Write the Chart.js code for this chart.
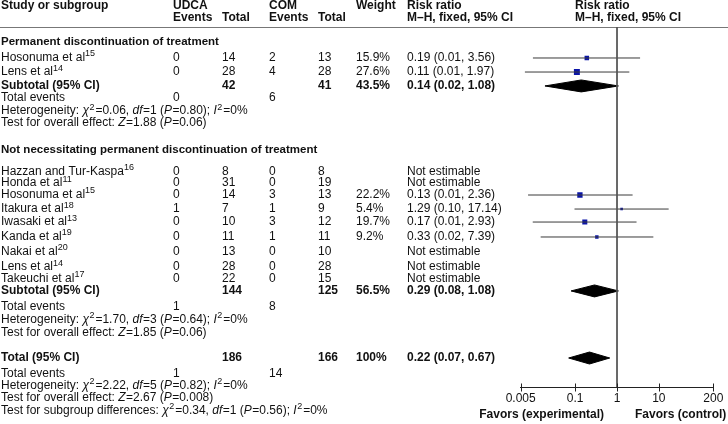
<!DOCTYPE html>
<html>
<head>
<meta charset="utf-8">
<script src="https://cdn.jsdelivr.net/npm/chart.js@4"></script>
<style>
  html, body { margin: 0; padding: 0; background: #fff; }
  canvas { display: block; }
</style>
</head>
<body>
<canvas id="forest" width="728" height="424"></canvas>
<script>
// Permanent discontinuation of treatment
const group1Names = ['Hosonuma et al', 'Lens et al'];
const group1Refs = ['15', '14'];
const group1UdcaEvents = [0, 0];
const group1UdcaTotal = [14, 28];
const group1ComEvents = [2, 4];
const group1ComTotal = [13, 28];
const group1Weight = [15.9, 27.6];
const group1RR = [0.19, 0.11];
const group1Lo = [0.0098, 0.0063];
const group1Hi = [3.56, 1.97];
const group1CiText = ['0.19 (0.01, 3.56)', '0.11 (0.01, 1.97)'];
const group1Rows = [1.23, 2.31];

// Not necessitating permanent discontinuation of treatment
const group2Names = ['Hazzan and Tur-Kaspa', 'Honda et al', 'Hosonuma et al', 'Itakura et al',
    'Iwasaki et al', 'Kanda et al', 'Nakai et al', 'Lens et al', 'Takeuchi et al'];
const group2Refs = ['16', '11', '15', '18', '13', '19', '20', '14', '17'];
const group2UdcaEvents = [0, 0, 0, 1, 0, 0, 0, 0, 0];
const group2UdcaTotal = [8, 31, 14, 7, 10, 11, 13, 28, 22];
const group2ComEvents = [0, 0, 3, 1, 3, 1, 0, 0, 0];
const group2ComTotal = [8, 19, 13, 9, 12, 11, 10, 28, 15];
const group2Weight = [null, null, 22.2, 5.4, 19.7, 9.2, null, null, null];
const group2RR = [null, null, 0.13, 1.29, 0.17, 0.33, null, null, null];
const group2Lo = [null, null, 0.0075, 0.0965, 0.0097, 0.015, null, null, null];
const group2Hi = [null, null, 2.36, 17.14, 2.93, 7.39, null, null, null];
const group2CiText = ['Not estimable', 'Not estimable', '0.13 (0.01, 2.36)', '1.29 (0.10, 17.14)',
    '0.17 (0.01, 2.93)', '0.33 (0.02, 7.39)', 'Not estimable', 'Not estimable', 'Not estimable'];
const group2Rows = [10, 10.85, 11.77, 12.85, 13.85, 15, 16.15, 17.31, 18.23];

// Subtotals and overall total
const summaryLabels = ['Subtotal (95% CI)', 'Subtotal (95% CI)', 'Total (95% CI)'];
const summaryUdcaTotal = [42, 144, 186];
const summaryComTotal = [41, 125, 166];
const summaryWeight = ['43.5%', '56.5%', '100%'];
const summaryRR = [0.14, 0.29, 0.22];
const summaryLo = [0.019, 0.08, 0.07];
const summaryHi = [1.08, 1.08, 0.67];
const summaryCiText = ['0.14 (0.02, 1.08)', '0.29 (0.08, 1.08)', '0.22 (0.07, 0.67)'];
const summaryRows = [3.38, 19.15, 24.31];

const totalEventsUdca = [0, 1, 1];
const totalEventsCom = [6, 8, 14];
const totalEventsRows = [4.31, 20.38, 25.5];
const hetChi = ['0.06', '1.70', '2.22'];
const hetDf = [1, 3, 5];
const hetP = ['0.80', '0.64', '0.82'];
const hetI2 = [0, 0, 0];
const hetRows = [5.31, 21.38, 26.42];
const effectZ = ['1.88', '1.85', '2.67'];
const effectP = ['0.06', '0.06', '0.008'];
const effectRows = [6.23, 22.38, 27.35];
const groupTitles = ['Permanent discontinuation of treatment', 'Not necessitating permanent discontinuation of treatment'];
const groupTitleRows = [0, 8.31];
const subgroupDiff = { chi: '0.34', df: 1, p: '0.56', i2: 0, row: 28.35 };

const xTicks = [0.005, 0.1, 1, 10, 200];
const yMin = -1.154;
const yMax = 26.54;

const FONT = '"Liberation Sans", Arial, sans-serif';

// column positions
const COL = { name: 1, udcaEv: 173, udcaTot: 222, comEv: 269, comTot: 318, weight: 356, ci: 407, plotHead: 575 };

function drawRich(ctx, segs, x, y, weight) {
    let cx = x;
    segs.forEach(([t, st]) => {
        const italic = st === 'i' ? 'italic ' : '';
        const size = st === 's' ? 9 : 12;
        ctx.font = `${italic}${weight} ${size}px ${FONT}`;
        ctx.fillText(t, cx, st === 's' ? y - 4 : y);
        cx += ctx.measureText(t).width + (st === 's' ? 1 : st === 'i' ? 0.5 : 0);
    });
}

function text(ctx, t, x, y, bold, align, size) {
    ctx.font = `${bold ? 'bold' : 'normal'} ${size || 12}px ${FONT}`;
    ctx.textAlign = align || 'left';
    ctx.fillText(String(t), x, y);
    ctx.textAlign = 'left';
}

// build datasets
const datasets = [];

// line of no effect
datasets.push({
    data: [{ x: 1, y: yMin }, { x: 1, y: yMax }],
    showLine: true, borderColor: '#555', borderWidth: 1, pointRadius: 0,
});

const studies = [];
group1RR.forEach((v, i) => studies.push({ rr: v, lo: group1Lo[i], hi: group1Hi[i], w: group1Weight[i], row: group1Rows[i] }));
group2RR.forEach((v, i) => studies.push({ rr: v, lo: group2Lo[i], hi: group2Hi[i], w: group2Weight[i], row: group2Rows[i] }));

studies.filter(s => s.rr !== null).forEach(s => {
    datasets.push({
        data: [{ x: s.lo, y: s.row }, { x: s.hi, y: s.row }],
        showLine: true, borderColor: '#3a3a3a', borderWidth: 1, pointRadius: 0,
    });
});

const estimable = studies.filter(s => s.rr !== null);
datasets.push({
    data: estimable.map(s => ({ x: s.rr, y: s.row })),
    pointStyle: 'rect',
    pointRadius: estimable.map(s => 0.8 * Math.sqrt(s.w)),
    backgroundColor: '#0a14a8',
    borderColor: '#0a14a8',
    borderWidth: 0,
});

const halfH = 0.46;
summaryRR.forEach((v, i) => {
    const r = summaryRows[i];
    datasets.push({
        data: [
            { x: summaryLo[i], y: r }, { x: v, y: r - halfH },
            { x: summaryHi[i], y: r }, { x: v, y: r + halfH }, { x: summaryLo[i], y: r },
        ],
        showLine: true, fill: 'shape', tension: 0,
        backgroundColor: '#000', borderColor: '#000', borderWidth: 1, pointRadius: 0,
    });
});

const tablePlugin = {
    id: 'tablePlugin',
    beforeDatasetsDraw(chart) {
        const ctx = chart.ctx;
        ctx.save();
        ctx.strokeStyle = '#777';
        ctx.lineWidth = 1;
        ctx.beginPath();
        ctx.moveTo(0, chart.chartArea.top + 0.5);
        ctx.lineTo(chart.width, chart.chartArea.top + 0.5);
        ctx.stroke();
        ctx.restore();
    },
    afterDraw(chart) {
        const ctx = chart.ctx;
        const ys = chart.scales.y;
        const xs = chart.scales.x;
        const py = r => ys.getPixelForValue(r);
        ctx.save();
        ctx.fillStyle = '#111';
        ctx.textBaseline = 'middle';

        // headers
        const h1 = 6, h2 = 18;
        text(ctx, 'Study or subgroup', COL.name, h1, true);
        text(ctx, 'UDCA', COL.udcaEv, h1, true);
        text(ctx, 'COM', COL.comEv, h1, true);
        text(ctx, 'Weight', COL.weight, h1, true);
        text(ctx, 'Risk ratio', COL.ci, h1, true);
        text(ctx, 'Risk ratio', COL.plotHead, h1, true);
        text(ctx, 'Events', COL.udcaEv, h2, true);
        text(ctx, 'Total', COL.udcaTot, h2, true);
        text(ctx, 'Events', COL.comEv, h2, true);
        text(ctx, 'Total', COL.comTot, h2, true);
        text(ctx, 'M\u2013H, fixed, 95% CI', COL.ci, h2, true);
        text(ctx, 'M\u2013H, fixed, 95% CI', COL.plotHead, h2, true);

        groupTitles.forEach((t, i) => text(ctx, t, COL.name, py(groupTitleRows[i]), true, 'left', 11.5));

        const studyRow = (name, ref, ue, ut, ce, ct, w, ci, y) => {
            drawRich(ctx, [[name], [ref, 's']], COL.name, y, 'normal');
            text(ctx, ue, COL.udcaEv, y);
            text(ctx, ut, COL.udcaTot, y);
            text(ctx, ce, COL.comEv, y);
            text(ctx, ct, COL.comTot, y);
            if (w !== null) text(ctx, w.toFixed(1) + '%', COL.weight, y);
            text(ctx, ci, COL.ci, y);
        };
        group1Names.forEach((n, i) => studyRow(n, group1Refs[i], group1UdcaEvents[i], group1UdcaTotal[i],
            group1ComEvents[i], group1ComTotal[i], group1Weight[i], group1CiText[i], py(group1Rows[i])));
        group2Names.forEach((n, i) => studyRow(n, group2Refs[i], group2UdcaEvents[i], group2UdcaTotal[i],
            group2ComEvents[i], group2ComTotal[i], group2Weight[i], group2CiText[i], py(group2Rows[i])));

        summaryLabels.forEach((l, i) => {
            const y = py(summaryRows[i]);
            text(ctx, l, COL.name, y, true);
            text(ctx, summaryUdcaTotal[i], COL.udcaTot, y, true);
            text(ctx, summaryComTotal[i], COL.comTot, y, true);
            text(ctx, summaryWeight[i], COL.weight, y, true);
            text(ctx, summaryCiText[i], COL.ci, y, true);
        });

        totalEventsRows.forEach((r, i) => {
            const y = py(r);
            text(ctx, 'Total events', COL.name, y);
            text(ctx, totalEventsUdca[i], COL.udcaEv, y);
            text(ctx, totalEventsCom[i], COL.comEv, y);
        });

        hetRows.forEach((r, i) => {
            drawRich(ctx, [['Heterogeneity: '], ['\u03C7', 'i'], ['2', 's'], ['=' + hetChi[i] + ', '],
                ['df', 'i'], ['=' + hetDf[i] + ' ('], ['P', 'i'], ['=' + hetP[i] + '); '],
                ['I', 'i'], ['2', 's'], ['=' + hetI2[i] + '%']], COL.name, py(r), 'normal');
        });
        effectRows.forEach((r, i) => {
            drawRich(ctx, [['Test for overall effect: '], ['Z', 'i'], ['=' + effectZ[i] + ' ('],
                ['P', 'i'], ['=' + effectP[i] + ')']], COL.name, py(r), 'normal');
        });
        drawRich(ctx, [['Test for subgroup differences: '], ['\u03C7', 'i'], ['2', 's'],
            ['=' + subgroupDiff.chi + ', '], ['df', 'i'], ['=' + subgroupDiff.df + ' ('], ['P', 'i'],
            ['=' + subgroupDiff.p + '); '], ['I', 'i'], ['2', 's'], ['=' + subgroupDiff.i2 + '%']],
            COL.name, py(subgroupDiff.row), 'normal');

        // crossing tick marks on the axis
        const axisY = xs.top + 0.5;
        ctx.strokeStyle = '#222';
        ctx.lineWidth = 1;
        xs.ticks.forEach(t => {
            const px = Math.round(xs.getPixelForValue(t.value)) + 0.5;
            ctx.beginPath();
            ctx.moveTo(px, axisY - 4);
            ctx.lineTo(px, axisY + 4);
            ctx.stroke();
        });

        const fy = 415;
        const mid = xs.getPixelForValue(1);
        text(ctx, 'Favors (experimental)', mid - 13, fy, true, 'right');
        text(ctx, 'Favors (control)', mid + 18, fy, true, 'left');
        ctx.restore();
    }
};

new Chart(document.getElementById('forest'), {
    type: 'scatter',
    data: { datasets: datasets },
    options: {
        responsive: false,
        animation: false,
        devicePixelRatio: 1,
        layout: { padding: { left: 520.7, right: 14.7, top: 27, bottom: 0 } },
        plugins: {
            legend: { display: false },
            tooltip: { enabled: false },
        },
        scales: {
            x: {
                type: 'logarithmic',
                min: 0.005,
                max: 200,
                afterBuildTicks: (scale) => { scale.ticks = xTicks.map(v => ({ value: v })); },
                afterFit: (scale) => { scale.height = 37; },
                grid: { display: false, drawTicks: false },
                border: { display: true, color: '#222', width: 1 },
                ticks: {
                    autoSkip: false,
                    maxRotation: 0,
                    padding: 4,
                    color: '#111',
                    font: { family: FONT, size: 12 },
                    callback: (v) => String(v),
                },
            },
            y: {
                type: 'linear',
                display: false,
                reverse: true,
                min: yMin,
                max: yMax,
            },
        },
    },
    plugins: [tablePlugin],
});
</script>
</body>
</html>
